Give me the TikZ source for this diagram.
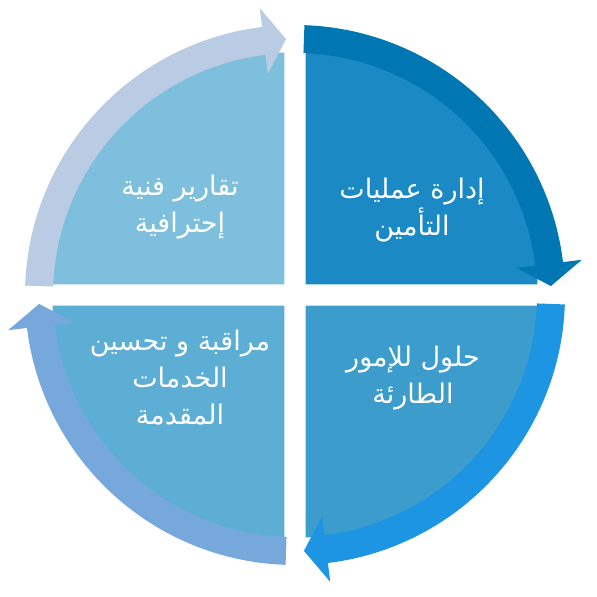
\documentclass[tikz,border=0pt]{standalone}
\usepackage{fontspec}
\newfontfamily\arabicfont[Script=Arabic]{DejaVu Sans}
\TeXXeTstate=1
\definecolor{fillTL}{HTML}{7DBFDD}
\definecolor{fillTR}{HTML}{1B8AC4}
\definecolor{fillBR}{HTML}{3C9CCC}
\definecolor{fillBL}{HTML}{5DAED5}
\definecolor{arrTL}{HTML}{B9CCE4}
\definecolor{arrTR}{HTML}{0077B3}
\definecolor{arrBR}{HTML}{1E95E3}
\definecolor{arrBL}{HTML}{77A8DB}
\tikzset{
  lbl/.style={text=white, align=center, inner sep=0pt,
    font=\arabicfont\fontsize{27}{37}\selectfont},
}
% start angle, head-base angle, tip angle, colour
\newcommand\cyclearrow[4]{%
  \fill[#4] (#1:270) arc[start angle=#1, end angle=#2, radius=270]
    -- (#2:289) -- (#3:256) -- (#2:223) -- (#2:242)
    arc[start angle=#2, end angle=#1, radius=242] -- cycle;}
\newcommand\quarterdisc[4]{%
  \fill[#4] (#1) -- ++(#2:232) arc[start angle=#2, end angle=#3, radius=232] -- cycle;}
\begin{document}
\begin{tikzpicture}[x=1pt,y=1pt]
\useasboundingbox[fill=white] (-295,-302) rectangle (302,295);
% quarter discs
\coordinate (cTL) at (-10.5,10.5);
\coordinate (cTR) at (10.5,10.5);
\coordinate (cBL) at (-10.5,-10.5);
\coordinate (cBR) at (10.5,-10.5);
\quarterdisc{cTL}{180}{90}{fillTL}
\quarterdisc{cTR}{90}{0}{fillTR}
\quarterdisc{cBR}{0}{-90}{fillBR}
\quarterdisc{cBL}{-90}{-180}{fillBL}
% arrows
\cyclearrow{178}{97}{92}{arrTL}
\cyclearrow{88}{7}{2}{arrTR}
\cyclearrow{-2}{-83}{-88}{arrBR}
\cyclearrow{-92}{-173}{-178}{arrBL}
% labels
\node[lbl] (tl) at (-115,88) {\beginR تقارير فنية\endR\\\beginR إحترافية\endR};
\node[lbl] (tr) at (117,85) {\beginR إدارة عمليات\endR\\\beginR التأمين\endR};
\node[lbl] (bl) at (-115,-83) {\beginR مراقبة و تحسين\endR\\\beginR الخدمات\endR\\\beginR المقدمة\endR};
\node[lbl] (br) at (118,-83) {\beginR حلول للإمور\endR\\\beginR الطارئة\endR};
\end{tikzpicture}
\end{document}
